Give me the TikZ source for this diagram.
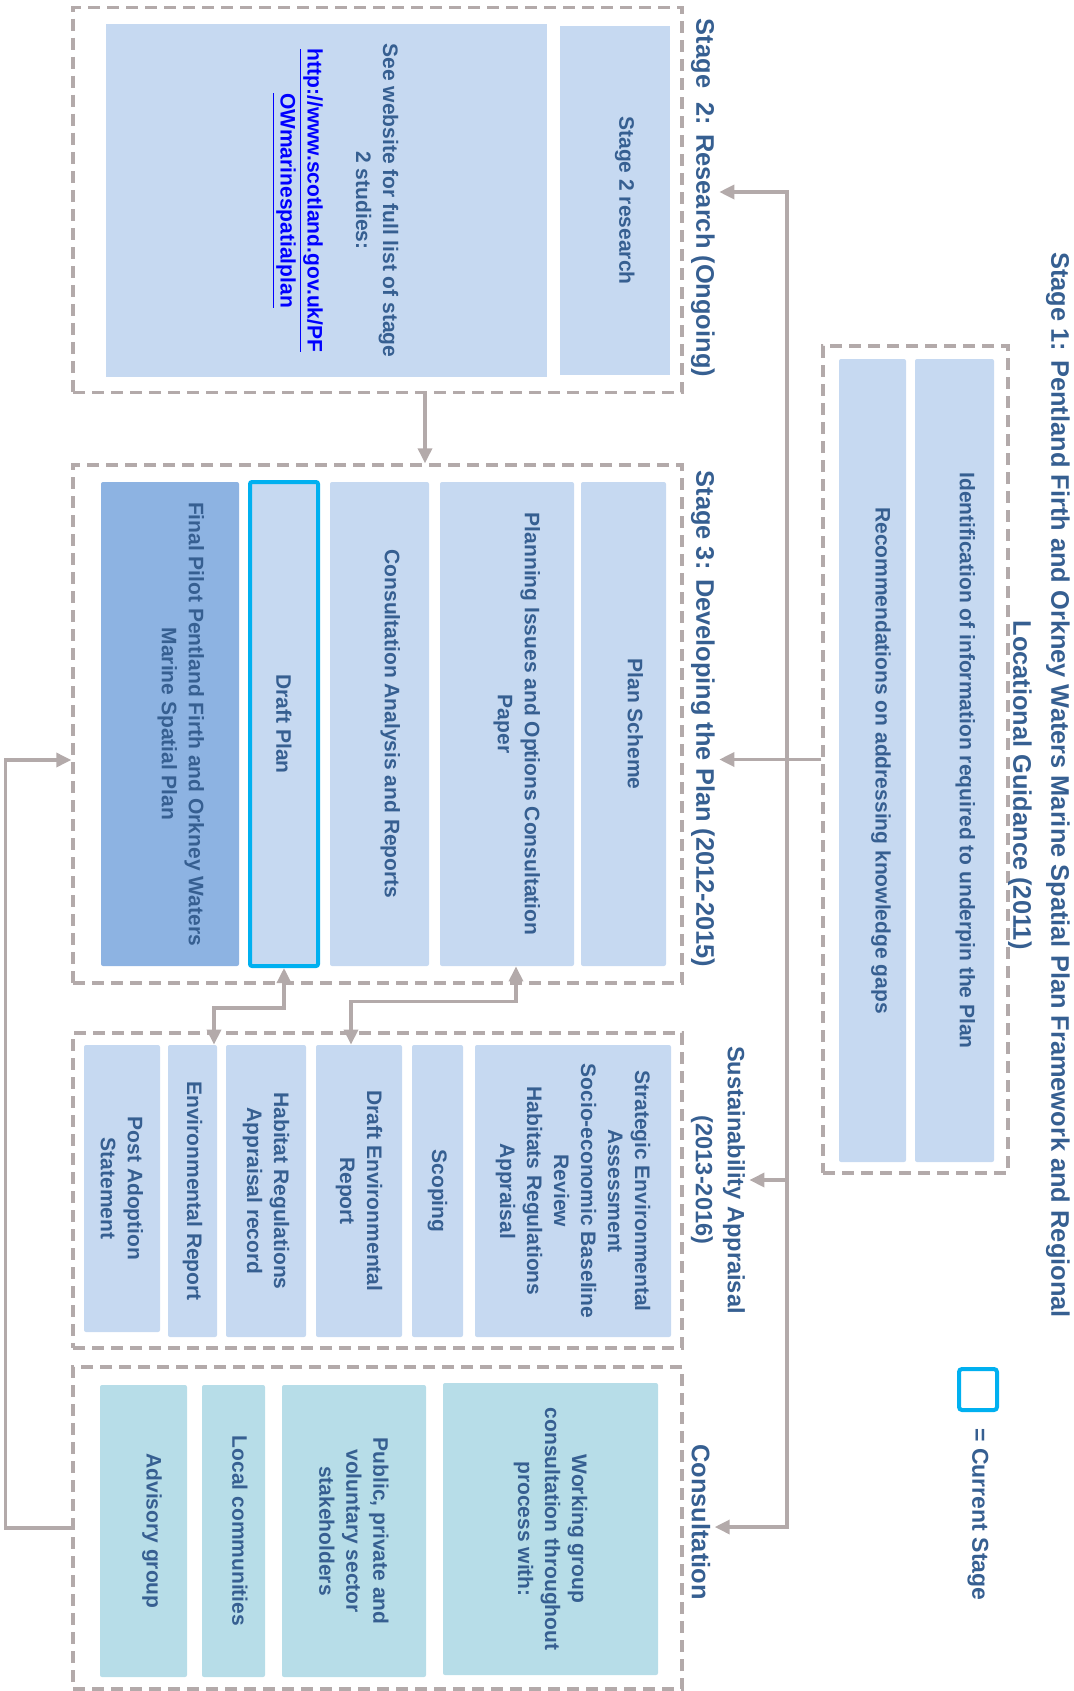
\documentclass[tikz,border=0pt]{standalone}
\usepackage{fontspec}
\setmainfont{Liberation Sans}
\usetikzlibrary{arrows.meta}

\definecolor{boxblue}{HTML}{C6D9F1}
\definecolor{finalblue}{HTML}{8DB3E2}
\definecolor{consblue}{HTML}{B7DDE8}
\definecolor{inkblue}{HTML}{365F91}
\definecolor{linkgray}{HTML}{B3AAAA}
\definecolor{currentblue}{HTML}{00B0F0}

\begin{document}
\begin{tikzpicture}[
    x = 0.5pt,
    y = -0.5pt,
    stageframe/.style = {draw = linkgray,
      line width = 1.7pt,
      dash pattern = on 6pt off 3.5pt,
      inner sep = 0pt},
    box/.style = {rotate = -90,
      fill = boxblue,
      text = inkblue,
      inner sep = 0pt,
      rounded corners = 1pt,
      align = center,
      font = \fontsize{10.5}{13.5}\selectfont\bfseries},
    lifted/.style = {text depth = #1},
    final/.style = {fill = finalblue},
    consult/.style = {fill = consblue},
    current/.style = {draw = currentblue, line width = 2pt},
    title/.style = {rotate = -90,
      text = inkblue,
      inner sep = 2pt,
      align = center,
      font = \fontsize{12.7}{19}\selectfont\bfseries},
    link/.style = {draw = linkgray, line width = 1.7pt},
    > = {Triangle[length = 7.5pt, width = 7pt]},
    ]

    \useasboundingbox (0, 0) rectangle (1074, 1691);

    \node at (915.5, 759.5)
    [stageframe, minimum width = 92.5pt, minimum height = 413.5pt,
      name = stage1_frame] {};
    \node at (872.5, 760.5)
    [box, lifted = 10.8pt, minimum width = 401.5pt, minimum height = 33.5pt,
      name = recommend] {Recommendations on addressing knowledge gaps};
    \node at (954.5, 760.5)
    [box, lifted = 13pt, minimum width = 401.5pt, minimum height = 39.5pt,
      name = identify]
    {Identification of information required to underpin the Plan};
    \node at (1039, 785) [title, name = stage1_title]
    {Stage 1: Pentland Firth and Orkney Waters Marine Spatial Plan Framework and Regional\\
      Locational Guidance (2011)};

    \node at (978, 1389.5)
    [current, rounded corners = 1.5pt, minimum width = 19pt,
      minimum height = 20.5pt, name = legend_box] {};
    \node at ([yshift = -6pt] legend_box.south)
    [title, anchor = west, font = \fontsize{11.5}{14}\selectfont\bfseries,
      name = legend_text] {= Current Stage};

    \node at (377.5, 200)
    [stageframe, minimum width = 304.5pt, minimum height = 192.75pt,
      name = stage2_frame] {};
    \node at (615, 200.5)
    [box, lifted = 11.9pt, rounded corners = 0pt, minimum width = 174.5pt,
      minimum height = 55pt, name = stage2_research] {Stage 2 research};
    \node at (326.5, 200.5)
    [box, lifted = 13pt, rounded corners = 0pt, minimum width = 176.5pt,
      minimum height = 220.5pt, name = website]
    {See website for full list of stage\\
      2 studies:\\[10.8pt]
      \textcolor{blue}{\underline{http://www.scotland.gov.uk/PF}}\\
      \textcolor{blue}{\underline{OWmarinespatialplan}}};
    \node at (703, 198) [title, name = stage2_title]
    {Stage~~2: Research (Ongoing)};

    \node at (377.5, 724)
    [stageframe, minimum width = 304.5pt, minimum height = 259pt,
      name = stage3_frame] {};
    \node at (623.5, 724)
    [box, lifted = 11.9pt, minimum width = 242pt, minimum height = 42.5pt,
      name = plan_scheme] {Plan Scheme};
    \node at (507, 724)
    [box, lifted = 11.9pt, minimum width = 242pt, minimum height = 67pt,
      name = planning] {Planning Issues and Options Consultation\\Paper};
    \node at (379.5, 724)
    [box, lifted = 13pt, minimum width = 242pt, minimum height = 49.5pt,
      name = cons_analysis] {Consultation Analysis and Reports};
    \node at (284, 724)
    [box, current, minimum width = 242pt, minimum height = 34pt,
      name = draft_plan] {Draft Plan};
    \node at (170, 724)
    [box, final, lifted = 13pt, minimum width = 242pt, minimum height = 69pt,
      name = final_plan]
    {Final Pilot Pentland Firth and Orkney Waters\\Marine Spatial Plan};
    \node at (703, 719) [title, name = stage3_title]
    {Stage 3: Developing the Plan (2012-2015)};

    \node at (377.5, 1190.5)
    [stageframe, minimum width = 304.5pt, minimum height = 157.5pt,
      name = sust_frame] {};
    \node at (573, 1191)
    [box, minimum width = 146pt, minimum height = 98pt, name = sea]
    {Strategic Environmental\\Assessment\\Socio-economic Baseline\\
      Review\\Habitats Regulations\\Appraisal};
    \node at (437.5, 1191)
    [box, minimum width = 146pt, minimum height = 25.5pt,
      name = scoping] {Scoping};
    \node at (359, 1191)
    [box, minimum width = 146pt, minimum height = 43pt,
      name = draft_env] {Draft Environmental\\Report};
    \node at (266, 1191)
    [box, minimum width = 146pt, minimum height = 40pt,
      name = habitat] {Habitat Regulations\\Appraisal record};
    \node at (192.5, 1191)
    [box, minimum width = 146pt, minimum height = 24.5pt,
      name = env_report] {Environmental Report};
    \node at (122, 1188.5)
    [box, minimum width = 143.5pt, minimum height = 38pt,
      name = post_adoption] {Post Adoption\\Statement};
    \node at (718, 1180)
    [title, font = \fontsize{11.8}{16}\selectfont\bfseries,
      name = sust_title] {Sustainability Appraisal\\(2013-2016)};

    \node at (377.5, 1528)
    [stageframe, minimum width = 304.5pt, minimum height = 161pt,
      name = consult_frame] {};
    \node at (550.5, 1529)
    [box, consult, minimum width = 146pt, minimum height = 107.5pt,
      name = working] {Working group\\consultation throughout\\process with:};
    \node at (354, 1531)
    [box, consult, minimum width = 146pt, minimum height = 72pt,
      name = public] {Public, private and\\voluntary sector\\stakeholders};
    \node at (233.5, 1531)
    [box, consult, lifted = 6.5pt, minimum width = 146pt, minimum height = 31.5pt,
      name = local] {Local communities};
    \node at (143.5, 1531)
    [box, consult, lifted = 10.8pt, minimum width = 146pt, minimum height = 43.5pt,
      name = advisory] {Advisory group};
    \node at (701, 1522) [title, name = consult_title] {Consultation};

    \coordinate (hub) at (787, 759.5);

    \draw [link, ->] (stage1_frame.west) -- (stage1_frame.west -| stage3_title.north);
    \draw [link, ->] (hub) |- ([yshift = 3pt] stage2_title.north);
    \draw [link, ->] (hub) |- ([yshift = -2.5pt] consult_title.north);
    \draw [link, ->] (hub |- sust_title.north) -- (sust_title.north);

    \draw [link, ->] ([xshift = 23.75pt] stage2_frame.south)
    -- ([xshift = 23.75pt] stage3_frame.north);

    \draw [link, <->] (draft_plan.east) -- ++(0, 40)
    -| ([xshift = 10.75pt] env_report.west);
    \draw [link, <->] ([xshift = 4.5pt] planning.east) -- ++(0, 35)
    -| ([xshift = -4pt] draft_env.west);

    \draw [link, ->] (consult_frame.west) -- ++(-66, 0)
    |- ([yshift = -18pt] stage3_frame.west);

  \end{tikzpicture}
\end{document}
